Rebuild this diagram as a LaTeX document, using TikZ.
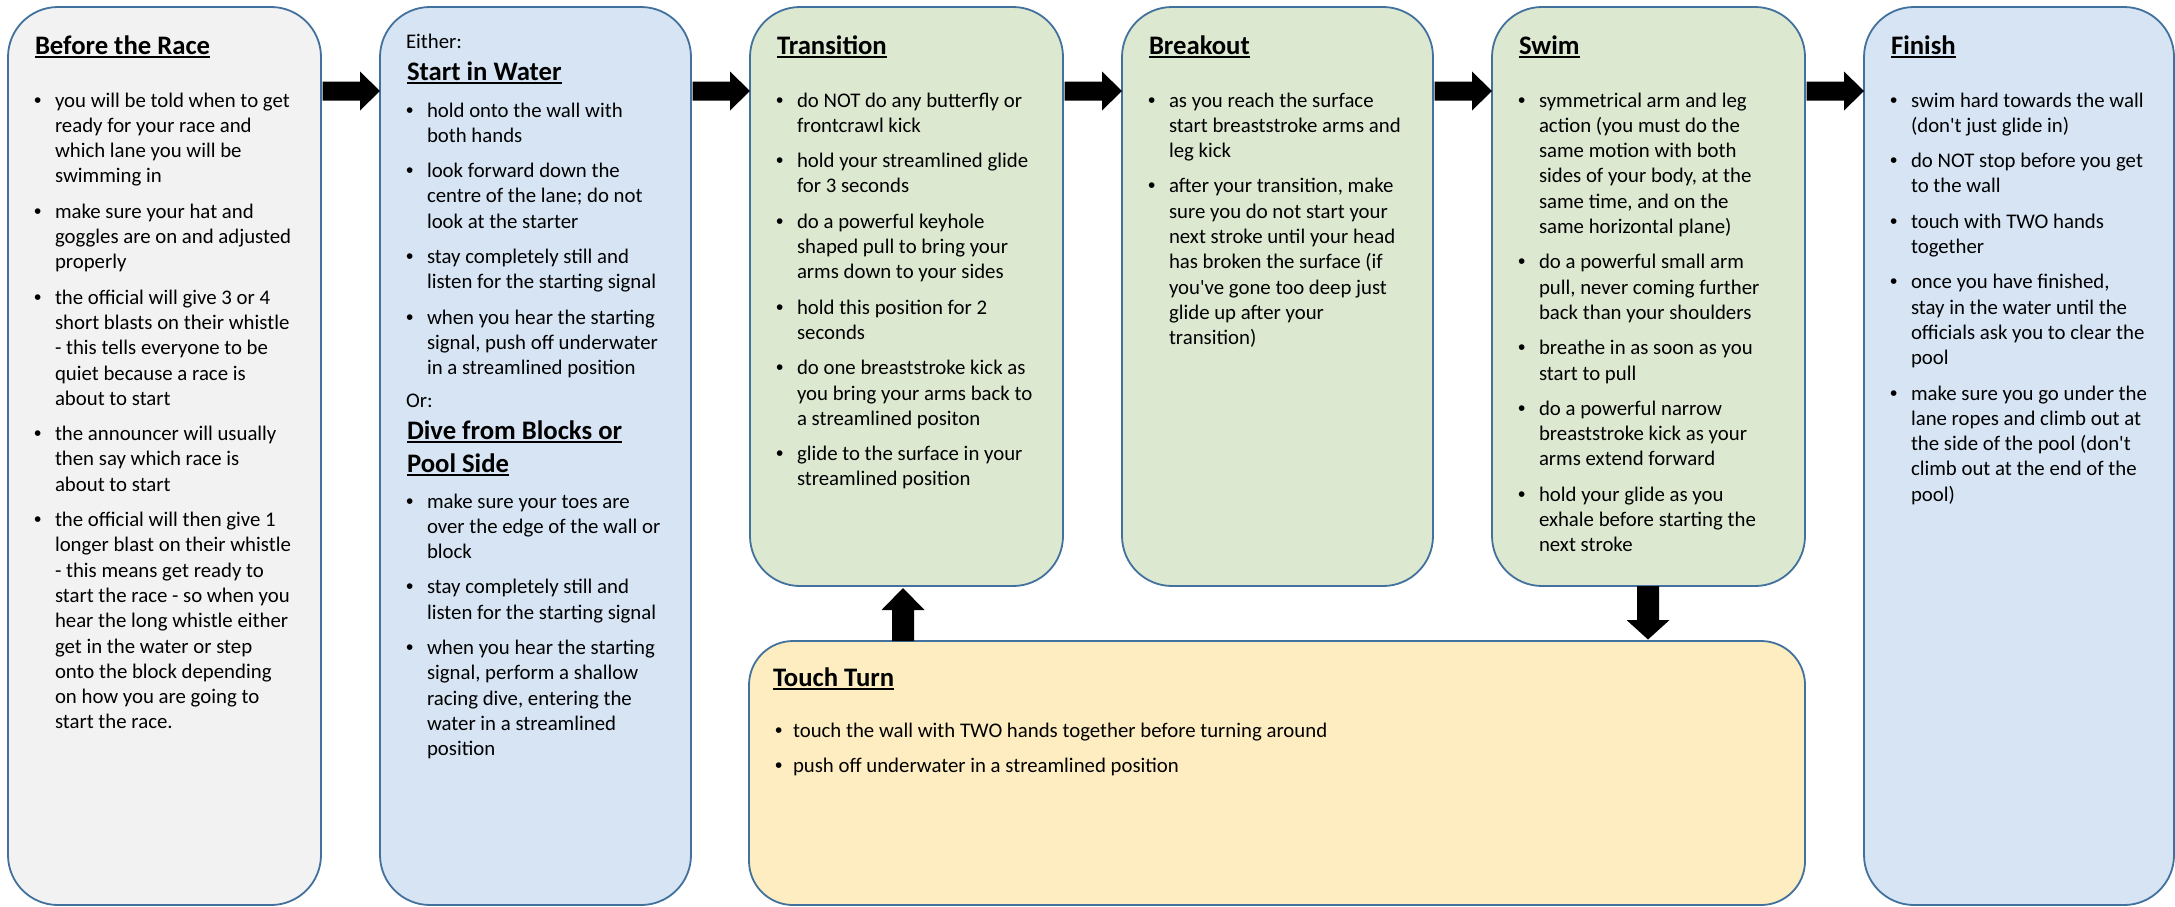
\documentclass[tikz,border=0pt]{standalone}
\usepackage{fontspec}
\setmainfont{Carlito}[Ligatures=TeXOff]
\newfontfamily\bulletfont{Liberation Sans}
\usetikzlibrary{calc}
\definecolor{edgeblue}{HTML}{41719C}
\definecolor{greyfill}{HTML}{F2F2F2}
\definecolor{bluefill}{HTML}{D6E4F4}
\definecolor{greenfill}{HTML}{DDE8D1}
\definecolor{goldfill}{HTML}{FEEDC0}
\newlength\bind
\newcommand\bodyfont{\fontsize{20.8pt}{25.3pt}\selectfont}
\newcommand\titlefont{\fontsize{26.7pt}{32.6pt}\selectfont\bfseries}
\newcommand\ulttl[1]{\leavevmode\setbox0=\hbox{#1}\rlap{\rule[-4.2pt]{\wd0}{1.8pt}}\box0}
\newcommand\bitem[1]{\par\noindent\parskip=10pt\relax\hangindent=\bind\hangafter=1\makebox[\bind][l]{{\bulletfont\symbol{"2022}}}#1\par}
\newenvironment{blist}[1]{\setlength\bind{#1}\begin{minipage}[t]{900pt}\bodyfont}{\end{minipage}}
\newcommand\fatright[3]{%
  \path (#1.east |- 0,#3) coordinate (arS) (#2.west |- 0,#3) coordinate (arE);
  \fill[blockarrow] ($(arS)+(1.5,-9.5)$) -- ($(arE)+(-20,-9.5)$) -- ($(arE)+(-20,-19.5)$) -- (arE)
    -- ($(arE)+(-20,19.5)$) -- ($(arE)+(-20,9.5)$) -- ($(arS)+(1.5,9.5)$) -- cycle;}
\newcommand\fatup[3]{%
  \path (#1.north -| #3,0) coordinate (arS) (#2.south -| #3,0) coordinate (arE);
  \fill[blockarrow] ($(arS)+(-11,0)$) -- ($(arE)+(-11,24)$) -- ($(arE)+(-21.5,24)$) -- ($(arE)+(0,2)$)
    -- ($(arE)+(21.5,24)$) -- ($(arE)+(11,24)$) -- ($(arS)+(11,0)$) -- cycle;}
\newcommand\fatdown[3]{%
  \path (#1.south -| #3,0) coordinate (arS) (#2.north -| #3,0) coordinate (arE);
  \fill[blockarrow] ($(arS)+(-11,0)$) -- ($(arE)+(-11,-21)$) -- ($(arE)+(-21.5,-21)$) -- ($(arE)+(0,-1.5)$)
    -- ($(arE)+(21.5,-21)$) -- ($(arE)+(11,-21)$) -- ($(arS)+(11,0)$) -- cycle;}
\begin{document}
\begin{tikzpicture}[x=1pt,y=-1pt,
  panel/.style={draw=edgeblue, line width=1.8pt, anchor=north west, inner sep=0pt, outer sep=0pt, rounded corners=50pt},
  ttl/.style={inner sep=0pt, outer sep=0pt, anchor=base west, font=\titlefont, text=black},
  bodytxt/.style={inner sep=0pt, outer sep=0pt, anchor=base west, font=\bodyfont, text=black},
  blockarrow/.style={fill=black, draw=none}]
\useasboundingbox (0,0) rectangle (2175,906);
\fill[white] (0,0) rectangle (2175,906);
% panels
\node[panel, fill=greyfill, minimum width=313pt, minimum height=898pt] (before) at (8,7) {};
\node[panel, fill=bluefill, minimum width=311pt, minimum height=898pt] (start) at (380,7) {};
\node[panel, fill=greenfill, minimum width=313pt, minimum height=579pt] (transition) at (750,7) {};
\node[panel, fill=greenfill, minimum width=311pt, minimum height=579pt] (breakout) at (1122,7) {};
\node[panel, fill=greenfill, minimum width=313pt, minimum height=579pt] (swim) at (1492,7) {};
\node[panel, fill=bluefill, minimum width=310pt, minimum height=898pt] (finish) at (1864,7) {};
\node[panel, fill=goldfill, rounded corners=44pt, minimum width=1056pt, minimum height=264pt] (turn) at (749,641) {};
% arrows
\fatright{before}{start}{91}
\fatright{start}{transition}{91}
\fatright{transition}{breakout}{91}
\fatright{breakout}{swim}{91}
\fatright{swim}{finish}{91}
\fatup{turn}{transition}{903}
\fatdown{swim}{turn}{1648}
% Before the Race
\node[ttl] (beforeT) at (35,54) {\ulttl{Before the Race}};
\node[bodytxt] (beforeL) at (34,107) {\begin{blist}{21pt}
\bitem{you will be told when to get\\ready for your race and\\which lane you will be\\swimming in}
\bitem{make sure your hat and\\goggles are on and adjusted\\properly}
\bitem{the official will give 3 or 4\\short blasts on their whistle\\- this tells everyone to be\\quiet because a race is\\about to start}
\bitem{the announcer will usually\\then say which race is\\about to start}
\bitem{the official will then give 1\\longer blast on their whistle\\- this means get ready to\\start the race - so when you\\hear the long whistle either\\get in the water or step\\onto the block depending\\on how you are going to\\start the race.}
\end{blist}};
% Start
\node[bodytxt] (either) at (406,48) {Either:};
\node[ttl] (startT) at (407,80) {\ulttl{Start in Water}};
\node[bodytxt] (startL) at (406,117) {\begin{blist}{21pt}
\bitem{hold onto the wall with\\both hands}
\bitem{look forward down the\\centre of the lane; do not\\look at the starter}
\bitem{stay completely still and\\listen for the starting signal}
\bitem{when you hear the starting\\signal, push off underwater\\in a streamlined position}
\end{blist}};
\node[bodytxt] (orT) at (406,407) {Or:};
\node[ttl] (diveT) at (407,439) {\ulttl{Dive from Blocks or}};
\node[ttl] (diveT2) at (407,472) {\ulttl{Pool Side}};
\node[bodytxt] (diveL) at (406,508) {\begin{blist}{21pt}
\bitem{make sure your toes are\\over the edge of the wall or\\block}
\bitem{stay completely still and\\listen for the starting signal}
\bitem{when you hear the starting\\signal, perform a shallow\\racing dive, entering the\\water in a streamlined\\position}
\end{blist}};
% Transition
\node[ttl] (transT) at (777,54) {\ulttl{Transition}};
\node[bodytxt] (transL) at (776,107) {\begin{blist}{21pt}
\bitem{do NOT do any butterfly or\\frontcrawl kick}
\bitem{hold your streamlined glide\\for 3 seconds}
\bitem{do a powerful keyhole\\shaped pull to bring your\\arms down to your sides}
\bitem{hold this position for 2\\seconds}
\bitem{do one breaststroke kick as\\you bring your arms back to\\a streamlined positon}
\bitem{glide to the surface in your\\streamlined position}
\end{blist}};
% Breakout
\node[ttl] (breakT) at (1149,54) {\ulttl{Breakout}};
\node[bodytxt] (breakL) at (1148,107) {\begin{blist}{21pt}
\bitem{as you reach the surface\\start breaststroke arms and\\leg kick}
\bitem{after your transition, make\\sure you do not start your\\next stroke until your head\\has broken the surface (if\\you've gone too deep just\\glide up after your\\transition)}
\end{blist}};
% Swim
\node[ttl] (swimT) at (1519,54) {\ulttl{Swim}};
\node[bodytxt] (swimL) at (1518,107) {\begin{blist}{21pt}
\bitem{symmetrical arm and leg\\action (you must do the\\same motion with both\\sides of your body, at the\\same time, and on the\\same horizontal plane)}
\bitem{do a powerful small arm\\pull, never coming further\\back than your shoulders}
\bitem{breathe in as soon as you\\start to pull}
\bitem{do a powerful narrow\\breaststroke kick as your\\arms extend forward}
\bitem{hold your glide as you\\exhale before starting the\\next stroke}
\end{blist}};
% Finish
\node[ttl] (finishT) at (1891,54) {\ulttl{Finish}};
\node[bodytxt] (finishL) at (1890,107) {\begin{blist}{21pt}
\bitem{swim hard towards the wall\\(don't just glide in)}
\bitem{do NOT stop before you get\\to the wall}
\bitem{touch with TWO hands\\together}
\bitem{once you have finished,\\stay in the water until the\\officials ask you to clear the\\pool}
\bitem{make sure you go under the\\lane ropes and climb out at\\the side of the pool (don't\\climb out at the end of the\\pool)}
\end{blist}};
% Touch Turn
\node[ttl] (turnT) at (773,686) {\ulttl{Touch Turn}};
\node[bodytxt] (turnL) at (775,737) {\begin{blist}{18pt}
\bitem{touch the wall with TWO hands together before turning around}
\bitem{push off underwater in a streamlined position}
\end{blist}};
\end{tikzpicture}
\end{document}
